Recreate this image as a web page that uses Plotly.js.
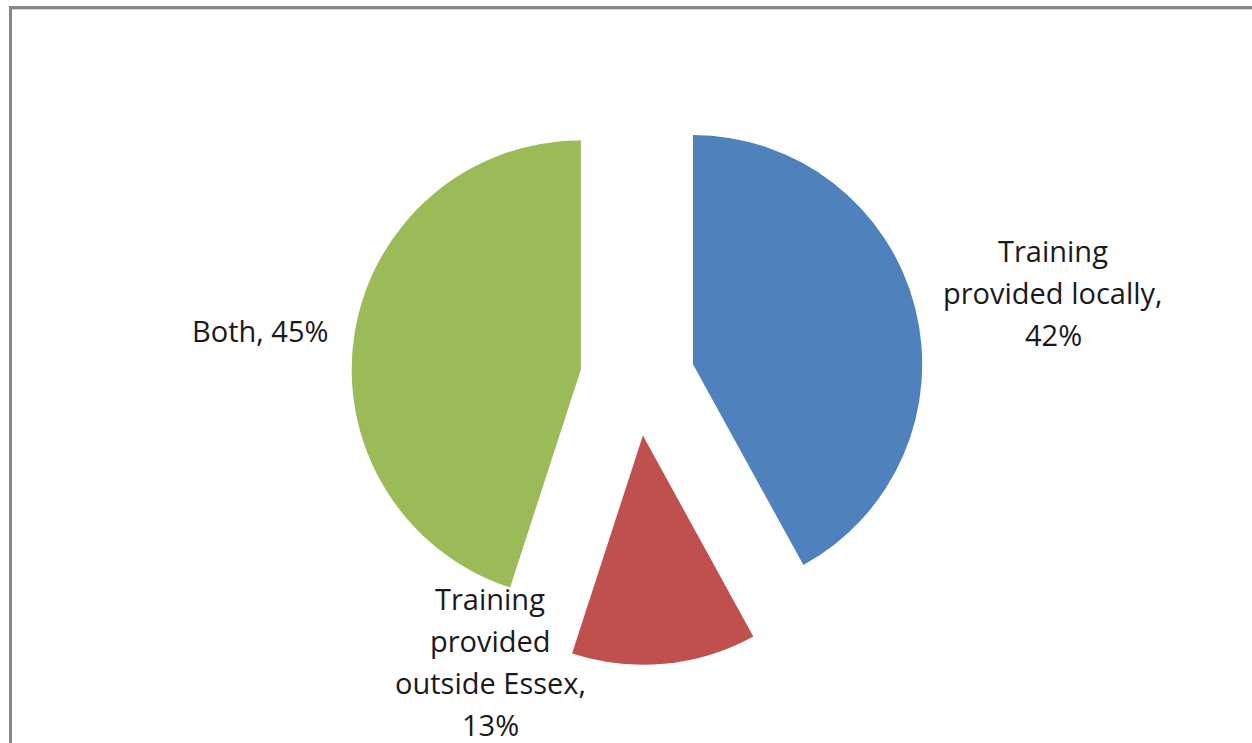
<!DOCTYPE html>
<html>
<head>
<meta charset="utf-8">
<script src="https://cdn.plot.ly/plotly-3.0.1.min.js"></script>
<style>
html,body{margin:0;padding:0;background:#fff;}
#chart{width:1252px;height:743px;}
</style>
</head>
<body>
<div id="chart"></div>
<script>
// ---- data ----
const categories = ['Training provided locally', 'Training provided outside Essex', 'Both'];
const values = [42, 13, 45];
const labelLines = [
  ['Training', 'provided locally,'],
  ['Training', 'provided', 'outside Essex,'],
  ['Both,']
];
const colors = ['#4F81BD', '#C0504D', '#9BBB59'];

// ---- layout constants ----
const W = 1252, H = 743;
const M = {l: 60, r: 37, t: 92, b: 78};
const PW = W - M.l - M.r, PH = H - M.t - M.b;
const px2x = p => (p - M.l) / PW;
const px2y = p => 1 - (p - M.t) / PH;
const labelPos = [
  {x: 1053, y: 250, newline: true},
  {x: 490, y: 598, newline: true},
  {x: 260, y: 330, newline: false}
];
const lineGap = 42;
const font = {family: '"Open Sans", Lato, sans-serif', size: 29, color: '#1a1a1a'};

const annotations = [];
categories.forEach((c, i) => {
  let lines = labelLines[i].slice();
  const pct = values[i] + '%';
  if (labelPos[i].newline) lines.push(pct);
  else lines[lines.length - 1] = lines[lines.length - 1] + ' ' + pct;
  lines.forEach((ln, j) => {
    annotations.push({
      xref: 'paper', yref: 'paper',
      x: px2x(labelPos[i].x), y: px2y(labelPos[i].y + j * lineGap),
      xanchor: 'center', yanchor: 'middle',
      text: ln, showarrow: false, font: font
    });
  });
});

const shapes = [
  {type: 'line', xref: 'paper', yref: 'paper', x0: px2x(9), x1: px2x(1252), y0: px2y(7.5), y1: px2y(7.5), line: {color: '#878787', width: 3}},
  {type: 'line', xref: 'paper', yref: 'paper', x0: px2x(12), x1: px2x(1252), y0: px2y(9.5), y1: px2y(9.5), line: {color: '#d4d4d4', width: 1}},
  {type: 'line', xref: 'paper', yref: 'paper', x0: px2x(10.5), x1: px2x(10.5), y0: px2y(6), y1: px2y(743), line: {color: '#878787', width: 3}}
];

Plotly.newPlot('chart', [{
  type: 'pie',
  labels: categories,
  values: values,
  sort: false,
  direction: 'clockwise',
  rotation: 0,
  pull: values.map(() => 0.25),
  marker: {colors: colors, line: {width: 0}},
  textinfo: 'none',
  hoverinfo: 'label+percent',
  showlegend: false
}], {
  width: W, height: H,
  margin: M,
  paper_bgcolor: '#ffffff',
  plot_bgcolor: '#ffffff',
  showlegend: false,
  annotations: annotations,
  shapes: shapes
}, {displayModeBar: false, staticPlot: true});
</script>
</body>
</html>
